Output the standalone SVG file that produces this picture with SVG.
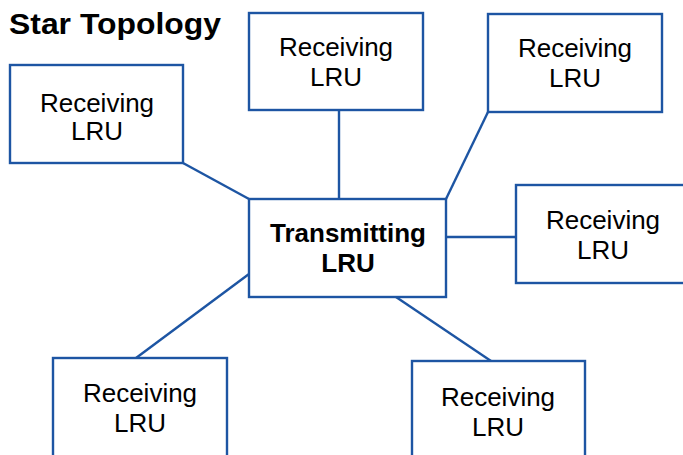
<svg xmlns="http://www.w3.org/2000/svg" width="683" height="455" viewBox="0 0 683 455">
<style>
.box{fill:#ffffff;stroke:#1d55a3;stroke-width:2.4}
.ln{stroke:#1d55a3;stroke-width:2.4;fill:none}
.t{font-family:"Liberation Sans",Arial,sans-serif;font-size:26px;fill:#000;text-anchor:middle}
.tb{font-family:"Liberation Sans",Arial,sans-serif;font-size:26px;font-weight:bold;fill:#000;text-anchor:middle}
.title{font-family:"Liberation Sans",Arial,sans-serif;font-size:29px;font-weight:bold;fill:#000}
</style>
<rect width="683" height="455" fill="#ffffff"/>
<text class="title" x="9" y="34" textLength="212" lengthAdjust="spacingAndGlyphs">Star Topology</text>
<g id="connectors">
<line class="ln" x1="183" y1="163" x2="249" y2="199"/>
<line class="ln" x1="339" y1="110" x2="339" y2="199"/>
<line class="ln" x1="488" y1="112" x2="446" y2="199"/>
<line class="ln" x1="446" y1="237" x2="516" y2="237"/>
<line class="ln" x1="249" y1="274" x2="136" y2="358"/>
<line class="ln" x1="396" y1="297" x2="491" y2="361"/>
</g>
<g id="tx">
<rect class="box" x="249" y="199" width="197" height="98"/>
<text class="tb" x="348" y="242">Transmitting</text>
<text class="tb" x="348" y="272">LRU</text>
</g>
<g id="rx1">
<rect class="box" x="10" y="65" width="173" height="98"/>
<text class="t" x="97" y="112">Receiving</text>
<text class="t" x="97" y="140">LRU</text>
</g>
<g id="rx2">
<rect class="box" x="249" y="13" width="174" height="97"/>
<text class="t" x="336" y="56">Receiving</text>
<text class="t" x="336" y="86">LRU</text>
</g>
<g id="rx3">
<rect class="box" x="488" y="14" width="174" height="98"/>
<text class="t" x="575" y="57">Receiving</text>
<text class="t" x="575" y="87">LRU</text>
</g>
<g id="rx4">
<rect class="box" x="516" y="185" width="174" height="98"/>
<text class="t" x="603" y="229">Receiving</text>
<text class="t" x="603" y="259">LRU</text>
</g>
<g id="rx5">
<rect class="box" x="53" y="358" width="174" height="110"/>
<text class="t" x="140" y="402">Receiving</text>
<text class="t" x="140" y="432">LRU</text>
</g>
<g id="rx6">
<rect class="box" x="412" y="361" width="173" height="110"/>
<text class="t" x="498" y="406">Receiving</text>
<text class="t" x="498" y="436">LRU</text>
</g>
</svg>
